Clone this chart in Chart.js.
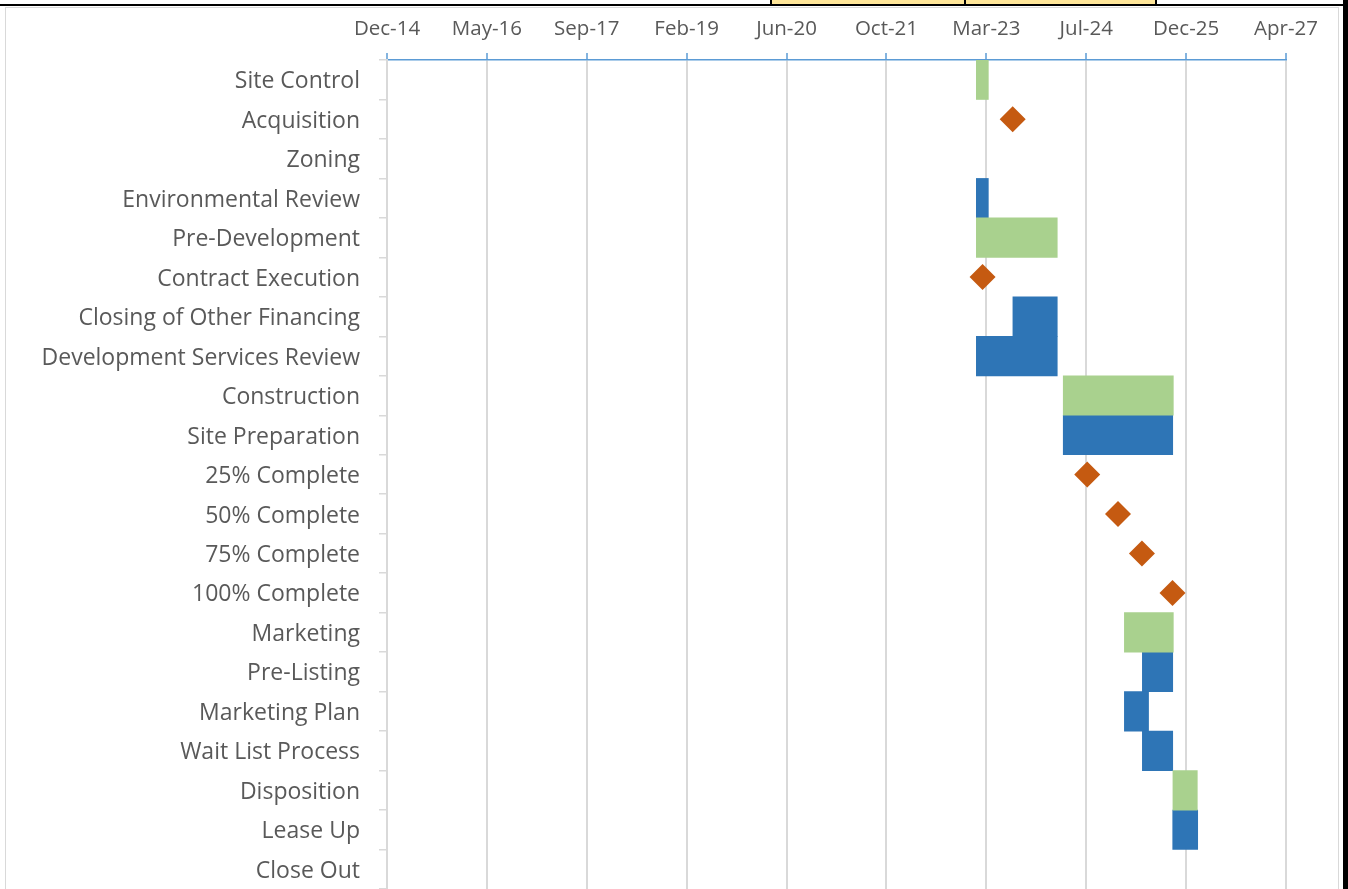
<!DOCTYPE html>
<html>
<head>
<meta charset="utf-8">
<script src="https://cdn.jsdelivr.net/npm/chart.js@4/dist/chart.umd.min.js"></script>
<style>
  html, body { margin: 0; padding: 0; background: #fff; overflow: hidden; }
  .cell { position: absolute; top: 0; height: 4px; background: #FFE699; }
  .vline { position: absolute; top: 0; height: 4px; width: 2px; background: #000; }
  .hline { position: absolute; left: 0; top: 4px; width: 1348px; height: 2px; background: #000; }
  .rline { position: absolute; left: 1343px; top: 0; width: 5px; height: 889px; background: #000; }
  .frame { position: absolute; left: 5px; top: 7px; width: 1332px; height: 900px;
           border: 1px solid #D9D9D9; border-bottom: none; }
  #gantt { position: absolute; left: 6px; top: 8px; }
</style>
</head>
<body>
<div class="cell" style="left:772px;width:192px"></div>
<div class="cell" style="left:966px;width:189px"></div>
<div class="vline" style="left:770px"></div>
<div class="vline" style="left:964px"></div>
<div class="vline" style="left:1155px"></div>
<div class="hline"></div>
<div class="frame"></div>
<div class="rline"></div>
<canvas id="gantt" width="1331" height="894"></canvas>

<script>
// schedule rows, top to bottom
const tasks = [
    'Site Control', 'Acquisition', 'Zoning', 'Environmental Review', 'Pre-Development',
    'Contract Execution', 'Closing of Other Financing', 'Development Services Review',
    'Construction', 'Site Preparation', '25% Complete', '50% Complete', '75% Complete',
    '100% Complete', 'Marketing', 'Pre-Listing', 'Marketing Plan', 'Wait List Process',
    'Disposition', 'Lease Up', 'Close Out'
];

// phase bars (green)
const phaseBars = [
    ['2023-01-24', '2023-03-25'], null, null, null, ['2023-01-24', '2024-03-04'],
    null, null, null,
    ['2024-04-03', '2025-10-06'], null, null, null, null,
    null, ['2025-02-03', '2025-10-06'], null, null, null,
    ['2025-10-04', '2026-02-03'], null, null
];

// task bars (blue)
const taskBars = [
    null, null, null, ['2023-01-24', '2023-03-25'], null,
    null, ['2023-07-26', '2024-03-04'], ['2023-01-24', '2024-03-04'],
    null, ['2024-04-03', '2025-10-03'], null, null, null,
    null, null, ['2025-05-04', '2025-10-03'], ['2025-02-03', '2025-06-04'], ['2025-05-04', '2025-10-03'],
    null, ['2025-10-03', '2026-02-05'], null
];

// milestones (diamonds)
const milestones = [
    null, '2023-07-25', null, null, null,
    '2023-02-24', null, null,
    null, null, '2024-08-01', '2025-01-02', '2025-05-02',
    '2025-10-02', null, null, null, null,
    null, null, null
];

// date axis, Excel serial days
const axisStart = '2014-12-27';
const axisEnd = '2027-04-23';
const axisStep = 500;

const MONTHS = ['Jan','Feb','Mar','Apr','May','Jun','Jul','Aug','Sep','Oct','Nov','Dec'];
const EPOCH = Date.UTC(1899, 11, 30);
const toSerial = (s) => Math.round((Date.parse(s) - EPOCH) / 864e5);
const fmtSerial = (n) => {
    const d = new Date(EPOCH + n * 864e5);
    return MONTHS[d.getUTCMonth()] + '-' + String(d.getUTCFullYear()).slice(2);
};
const toRange = (r) => r ? [toSerial(r[0]), toSerial(r[1])] : null;

const FONT = "'Open Sans', sans-serif";
const TEXT = '#595959';
const GRID = '#D9D9D9';
const AXIS = '#5B9BD5';

new Chart(document.getElementById('gantt'), {
    type: 'bar',
    data: {
        labels: tasks,
        datasets: [
            {
                label: 'Phase',
                data: phaseBars.map(toRange),
                backgroundColor: '#A9D18E',
                grouped: false,
                barPercentage: 1,
                categoryPercentage: 1,
                order: 2
            },
            {
                label: 'Task',
                data: taskBars.map(toRange),
                backgroundColor: '#2E75B6',
                grouped: false,
                barPercentage: 1,
                categoryPercentage: 1,
                order: 2
            },
            {
                type: 'line',
                label: 'Milestone',
                indexAxis: 'y',
                data: milestones.map(m => m ? toSerial(m) : null),
                showLine: false,
                pointStyle: 'rectRot',
                pointRadius: 13,
                pointHoverRadius: 13,
                pointBackgroundColor: '#C55A11',
                pointBorderWidth: 0,
                order: 1
            }
        ]
    },
    options: {
        indexAxis: 'y',
        responsive: false,
        animation: false,
        layout: { padding: { top: 0, right: 51, bottom: 3, left: 0 } },
        plugins: {
            legend: { display: false },
            tooltip: { enabled: false }
        },
        scales: {
            x: {
                type: 'linear',
                position: 'top',
                min: toSerial(axisStart),
                max: toSerial(axisEnd),
                afterFit: (s) => { s.height = 52; },
                ticks: {
                    stepSize: axisStep,
                    padding: 12,
                    color: TEXT,
                    font: { family: FONT, size: 20.5 },
                    maxRotation: 0,
                    callback: (v) => fmtSerial(v)
                },
                grid: {
                    color: GRID,
                    lineWidth: 2,
                    tickColor: AXIS,
                    tickLength: 7,
                    tickWidth: 1.5
                },
                border: { color: AXIS, width: 1.5 }
            },
            y: {
                // no extra label padding at the ends, rows run to the bottom edge
                afterFit: (s) => { s.width = 381; s.paddingTop = 0; s.paddingBottom = 0; },
                ticks: {
                    padding: 19,
                    labelOffset: 2,
                    color: TEXT,
                    font: { family: FONT, size: 23 },
                    autoSkip: false
                },
                grid: {
                    offset: true,
                    drawOnChartArea: false,
                    color: GRID,
                    tickLength: 8,
                    lineWidth: 1.5
                },
                border: { color: GRID, width: 2 }
            }
        }
    }
});
</script>
</body>
</html>
